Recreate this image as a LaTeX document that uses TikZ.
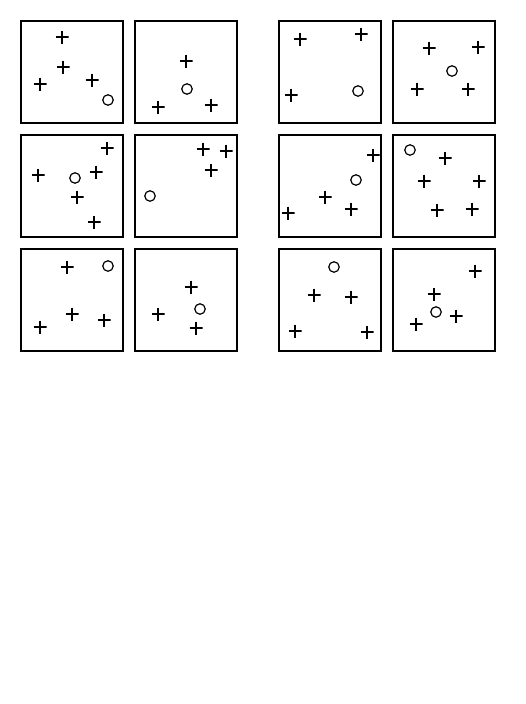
\documentclass[tikz,border=0pt]{standalone}
\usepackage{tikz}
\usetikzlibrary{positioning}

\begin{document}
\begin{tikzpicture}[
                x=1pt, y=-1pt,
                panel/.style={draw=black, line width=2pt, rectangle, minimum size=102pt, inner sep=0pt, outer sep=0pt},
                plusmark/.style={minimum size=13pt, inner sep=0pt,
                    path picture={\draw[line width=1.6pt] (path picture bounding box.west) -- (path picture bounding box.east)
                                  (path picture bounding box.north) -- (path picture bounding box.south);}},
                ringmark/.style={draw=black, line width=1.2pt, circle, minimum size=10.5pt, inner sep=0pt}
            ]
            \useasboundingbox (0,0) rectangle (526,704);

            % Felder
            \node[panel] (p11) at (72,72) {};
            \node[panel, right=12pt of p11] (p12) {};
            \node[panel, below=12pt of p11] (p21) {};
            \node[panel, right=12pt of p21] (p22) {};
            \node[panel, below=12pt of p21] (p31) {};
            \node[panel, right=12pt of p31] (p32) {};
            \node[panel, right=42pt of p12] (p13) {};
            \node[panel, right=12pt of p13] (p14) {};
            \node[panel, below=12pt of p13] (p23) {};
            \node[panel, right=12pt of p23] (p24) {};
            \node[panel, below=12pt of p23] (p33) {};
            \node[panel, right=12pt of p33] (p34) {};

            % Feld 1,1
            \node[plusmark] (a1) at (62,37) {};
            \node[plusmark] (a2) at (63,67) {};
            \node[plusmark] (a3) at (40,84) {};
            \node[plusmark] (a4) at (92,80) {};
            \node[ringmark] (a5) at (108,100) {};
            % Feld 1,2
            \node[plusmark] (b1) at (186,61) {};
            \node[ringmark] (b2) at (187,89) {};
            \node[plusmark] (b3) at (158,107) {};
            \node[plusmark] (b4) at (211,105) {};
            % Feld 2,1
            \node[plusmark] (c1) at (107,148) {};
            \node[plusmark] (c2) at (38,175) {};
            \node[ringmark] (c3) at (75,178) {};
            \node[plusmark] (c4) at (96,172) {};
            \node[plusmark] (c5) at (77,197) {};
            \node[plusmark] (c6) at (94,222) {};
            % Feld 2,2
            \node[plusmark] (d1) at (203,149) {};
            \node[plusmark] (d2) at (226,151) {};
            \node[plusmark] (d3) at (211,170) {};
            \node[ringmark] (d4) at (150,196) {};
            % Feld 3,1
            \node[plusmark] (e1) at (67,267) {};
            \node[ringmark] (e2) at (108,266) {};
            \node[plusmark] (e3) at (72,314) {};
            \node[plusmark] (e4) at (40,327) {};
            \node[plusmark] (e5) at (104,320) {};
            % Feld 3,2
            \node[plusmark] (f1) at (191,287) {};
            \node[ringmark] (f2) at (200,309) {};
            \node[plusmark] (f3) at (158,314) {};
            \node[plusmark] (f4) at (196,328) {};
            % Feld 1,3
            \node[plusmark] (g1) at (300,39) {};
            \node[plusmark] (g2) at (361,34) {};
            \node[plusmark] (g3) at (291,95) {};
            \node[ringmark] (g4) at (358,91) {};
            % Feld 1,4
            \node[plusmark] (h1) at (429,48) {};
            \node[plusmark] (h2) at (478,47) {};
            \node[ringmark] (h3) at (452,71) {};
            \node[plusmark] (h4) at (417,89) {};
            \node[plusmark] (h5) at (468,89) {};
            % Feld 2,3
            \node[plusmark] (i1) at (373,155) {};
            \node[ringmark] (i2) at (356,180) {};
            \node[plusmark] (i3) at (325,197) {};
            \node[plusmark] (i4) at (351,209) {};
            \node[plusmark] (i5) at (288,213) {};
            % Feld 2,4
            \node[ringmark] (j1) at (410,150) {};
            \node[plusmark] (j2) at (445,158) {};
            \node[plusmark] (j3) at (424,181) {};
            \node[plusmark] (j4) at (479,181) {};
            \node[plusmark] (j5) at (437,210) {};
            \node[plusmark] (j6) at (472,209) {};
            % Feld 3,3
            \node[ringmark] (k1) at (334,267) {};
            \node[plusmark] (k2) at (314,295) {};
            \node[plusmark] (k3) at (351,297) {};
            \node[plusmark] (k4) at (295,331) {};
            \node[plusmark] (k5) at (367,332) {};
            % Feld 3,4
            \node[plusmark] (l1) at (475,271) {};
            \node[plusmark] (l2) at (434,294) {};
            \node[ringmark] (l3) at (436,312) {};
            \node[plusmark] (l4) at (456,316) {};
            \node[plusmark] (l5) at (416,324) {};

        \end{tikzpicture}
\end{document}
